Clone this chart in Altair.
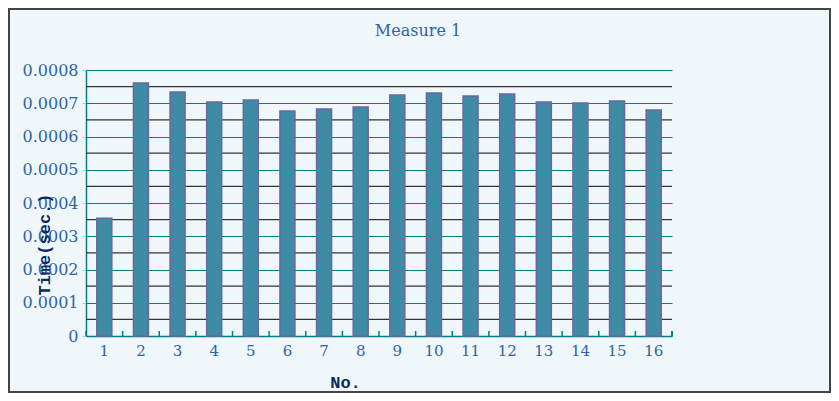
import altair as alt
import pandas as pd

nos = [str(i) for i in range(1, 17)]
times = [0.000354, 0.000761, 0.000734, 0.000704, 0.000710, 0.000677, 0.000683, 0.000689,
         0.000725, 0.000731, 0.000722, 0.000728, 0.000704, 0.000701, 0.000707, 0.000680]
major_ticks = [0, 0.0001, 0.0002, 0.0003, 0.0004, 0.0005, 0.0006, 0.0007, 0.0008]
minor_ticks = [0.00005, 0.00015, 0.00025, 0.00035, 0.00045, 0.00055, 0.00065, 0.00075]

df = pd.DataFrame({"No": nos, "Time": times})
df_minor = pd.DataFrame({"Time": minor_ticks})

W, H = 586, 266
SERIF = "DejaVu Serif"
MONO = "Liberation Mono"
LABEL_BLUE = "#2f62a8"
NAVY = "#0b2a5e"
TEAL = "#008080"

xscale = alt.Scale(domain=nos, paddingInner=0.0, paddingOuter=0.0)
yscale = alt.Scale(domain=[0, 0.0008])

xaxis = alt.Axis(title="No.", labelAngle=0, labelFont=SERIF, labelFontSize=15,
                 labelColor=LABEL_BLUE, labelPadding=7, ticks=False,
                 domainColor=TEAL, domainWidth=1.5, grid=False,
                 titleFont=MONO, titleFontSize=17, titleFontWeight="bold",
                 titleColor=NAVY, titleX=259, titleY=46, titleAlign="center",
                 titleBaseline="middle")
yaxis = alt.Axis(title="Time(sec.)", values=major_ticks, format=".4~f",
                 labelFont=SERIF, labelFontSize=16, labelColor=LABEL_BLUE,
                 labelPadding=4, labelOverlap=False,
                 tickColor="#9fd6e6", tickSize=4,
                 domainColor=TEAL, domainWidth=1.5,
                 grid=True, gridColor=TEAL, gridWidth=1.2, gridOpacity=1,
                 titleFont=MONO, titleFontSize=17, titleFontWeight="bold",
                 titleColor=NAVY, titleX=-42, titleY=174, titleAngle=270,
                 titleAlign="center", titleBaseline="middle")

minor = alt.Chart(df_minor).mark_rule(color="#333333", strokeWidth=1.2).encode(
    y=alt.Y("Time:Q", scale=yscale, axis=yaxis),
    x=alt.value(0), x2=alt.value(W),
)

bars = alt.Chart(df).mark_bar(size=15, color="#3d8ba4", stroke="#6b68a0", strokeWidth=1.5).encode(
    x=alt.X("No:O", scale=xscale, sort=nos, axis=xaxis),
    y=alt.Y("Time:Q", scale=yscale, axis=yaxis),
)

xticks = alt.Chart(df).mark_rule(color=TEAL, strokeWidth=1.5).encode(
    x=alt.X("No:O", scale=xscale, sort=nos, bandPosition=0, axis=xaxis),
    y=alt.value(H - 5), y2=alt.value(H),
)
last_tick = alt.Chart(df).mark_rule(color=TEAL, strokeWidth=1.5).encode(
    x=alt.value(W), y=alt.value(H - 5), y2=alt.value(H),
)

border = alt.Chart(df).mark_rect(fill=None, stroke="#444444", strokeWidth=2).encode(
    x=alt.value(-77), x2=alt.value(W + 158),
    y=alt.value(-61), y2=alt.value(H + 56),
)

chart = alt.layer(minor, bars, xticks, last_tick, border).properties(
    width=W, height=H,
    title=alt.TitleParams("Measure 1", font=SERIF, fontSize=16, fontWeight="normal",
                          color=LABEL_BLUE, anchor="middle", dx=39, offset=-44,
                          baseline="alphabetic"),
    autosize=alt.AutoSizeParams(type="none"),
    padding={"left": 78, "top": 62, "right": 159, "bottom": 57},
    background="#f0f7fa",
).configure_view(stroke=None)

chart.save("out.html", embed_options={"renderer": "svg", "actions": False})
